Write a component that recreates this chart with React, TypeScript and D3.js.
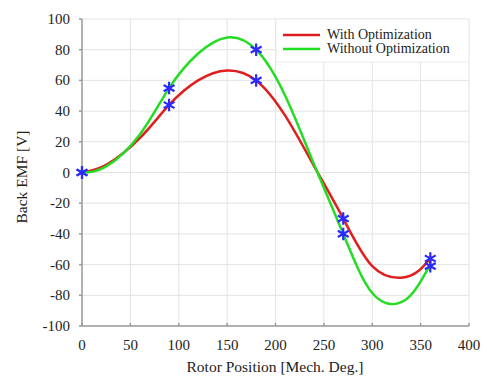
import React, { useRef, useEffect } from "react";
import * as d3 from "d3";

// rotor position samples (deg)
const positions = [0, 25, 60, 90, 120, 150, 180, 210, 240, 270, 300, 330, 348, 360];
const withOpt = [0, 5, 22.5, 44, 60, 66.5, 60, 37, 4, -30, -61, -68.5, -64, -56];
const withoutOpt = [0, 4, 25, 55, 77.5, 88, 80, 50, 5, -40, -78.5, -84.5, -73, -60];

// measured points (asterisks)
const markerPos = [0, 90, 180, 270, 360];
const markerWith = [0, 44, 60, -30, -56];
const markerWithout = [0, 55, 80, -40, -61];

const xTicks = [0, 50, 100, 150, 200, 250, 300, 350, 400];
const yTicks = [-100, -80, -60, -40, -20, 0, 20, 40, 60, 80, 100];

const legendItems = [
  { label: "With Optimization", color: "#e01e1e" },
  { label: "Without Optimization", color: "#22dd22" },
];

const App = () => {
  const ref = useRef<SVGSVGElement>(null);

  useEffect(() => {
    document.body.style.margin = "0";
    const svg = d3.select(ref.current);
    svg.selectAll("*").remove();

    const width = 487;
    const height = 376;
    const left = 82, right = 469, top = 19, bottom = 326;
    const font = "Liberation Serif, DejaVu Serif, Times New Roman, serif";

    const x = d3.scaleLinear().domain([0, 400]).range([left, right]);
    const y = d3.scaleLinear().domain([-100, 100]).range([bottom, top]);

    svg.attr("width", width).attr("height", height).style("display", "block")
      .attr("font-family", font);
    svg.append("rect").attr("width", width).attr("height", height).attr("fill", "#fff");

    // grid
    const grid = svg.append("g").attr("stroke", "#e3e3e3").attr("stroke-width", 1);
    grid.selectAll("line.v").data(xTicks).join("line")
      .attr("x1", d => x(d)).attr("x2", d => x(d))
      .attr("y1", top).attr("y2", bottom);
    grid.selectAll("line.h").data(yTicks).join("line")
      .attr("x1", left).attr("x2", right)
      .attr("y1", d => y(d)).attr("y2", d => y(d));

    // axes
    const axis = svg.append("g").attr("stroke", "#9a9a9a").attr("stroke-width", 1.5);
    axis.append("line").attr("x1", left).attr("x2", left).attr("y1", top).attr("y2", bottom);
    axis.append("line").attr("x1", left).attr("x2", right).attr("y1", bottom).attr("y2", bottom);
    axis.selectAll("line.tx").data(xTicks).join("line")
      .attr("x1", d => x(d)).attr("x2", d => x(d))
      .attr("y1", bottom).attr("y2", bottom - 3);
    axis.selectAll("line.ty").data(yTicks).join("line")
      .attr("x1", left - 3).attr("x2", left)
      .attr("y1", d => y(d)).attr("y2", d => y(d));

    // tick labels
    svg.append("g").selectAll("text").data(yTicks).join("text")
      .attr("x", 70).attr("y", d => y(d) + 5)
      .attr("text-anchor", "end")
      .attr("font-family", font).attr("font-size", 15).attr("fill", "#222")
      .text(d => d);
    svg.append("g").selectAll("text").data(xTicks).join("text")
      .attr("x", d => x(d)).attr("y", 350)
      .attr("text-anchor", "middle")
      .attr("font-family", font).attr("font-size", 15).attr("fill", "#222")
      .text(d => d);

    // axis titles
    svg.append("text")
      .attr("x", 275).attr("y", 372)
      .attr("text-anchor", "middle")
      .attr("font-family", font).attr("font-size", 15.5).attr("fill", "#222")
      .text("Rotor Position [Mech. Deg.]");
    svg.append("text")
      .attr("transform", `translate(27, 177) rotate(-90)`)
      .attr("text-anchor", "middle")
      .attr("font-family", font).attr("font-size", 15.5).attr("fill", "#222")
      .text("Back EMF [V]");

    // curves
    const line = d3.line<[number, number]>()
      .x(d => x(d[0])).y(d => y(d[1]))
      .curve(d3.curveNatural);
    const series = [withOpt, withoutOpt];
    series.forEach((vals, i) => {
      svg.append("path")
        .datum(positions.map((p, j) => [p, vals[j]] as [number, number]))
        .attr("d", line)
        .attr("fill", "none")
        .attr("stroke", legendItems[i].color)
        .attr("stroke-width", 2.5);
    });

    // markers
    const star = d3.symbol().type(d3.symbolAsterisk).size(110);
    [markerWith, markerWithout].forEach(vals => {
      svg.append("g").selectAll("path").data(markerPos).join("path")
        .attr("transform", (d, j) => `translate(${x(d)},${y(vals[j])})`)
        .attr("d", star())
        .attr("fill", "none")
        .attr("stroke", "#2a2aff")
        .attr("stroke-width", 2.2);
    });

    // legend
    const lg = svg.append("g");
    lg.append("rect")
      .attr("x", 276).attr("y", top).attr("width", right - 276).attr("height", 43)
      .attr("fill", "#fff").attr("stroke", "#ececec");
    legendItems.forEach((item, i) => {
      const ly = 35 + i * 14;
      lg.append("line")
        .attr("x1", 283).attr("x2", 320).attr("y1", ly).attr("y2", ly)
        .attr("stroke", item.color).attr("stroke-width", 2.5);
      lg.append("text")
        .attr("x", 327).attr("y", ly + 4)
        .attr("font-family", font).attr("font-size", 14).attr("fill", "#222")
        .text(item.label);
    });
  }, []);

  return <svg ref={ref}></svg>;
};

export default App;
